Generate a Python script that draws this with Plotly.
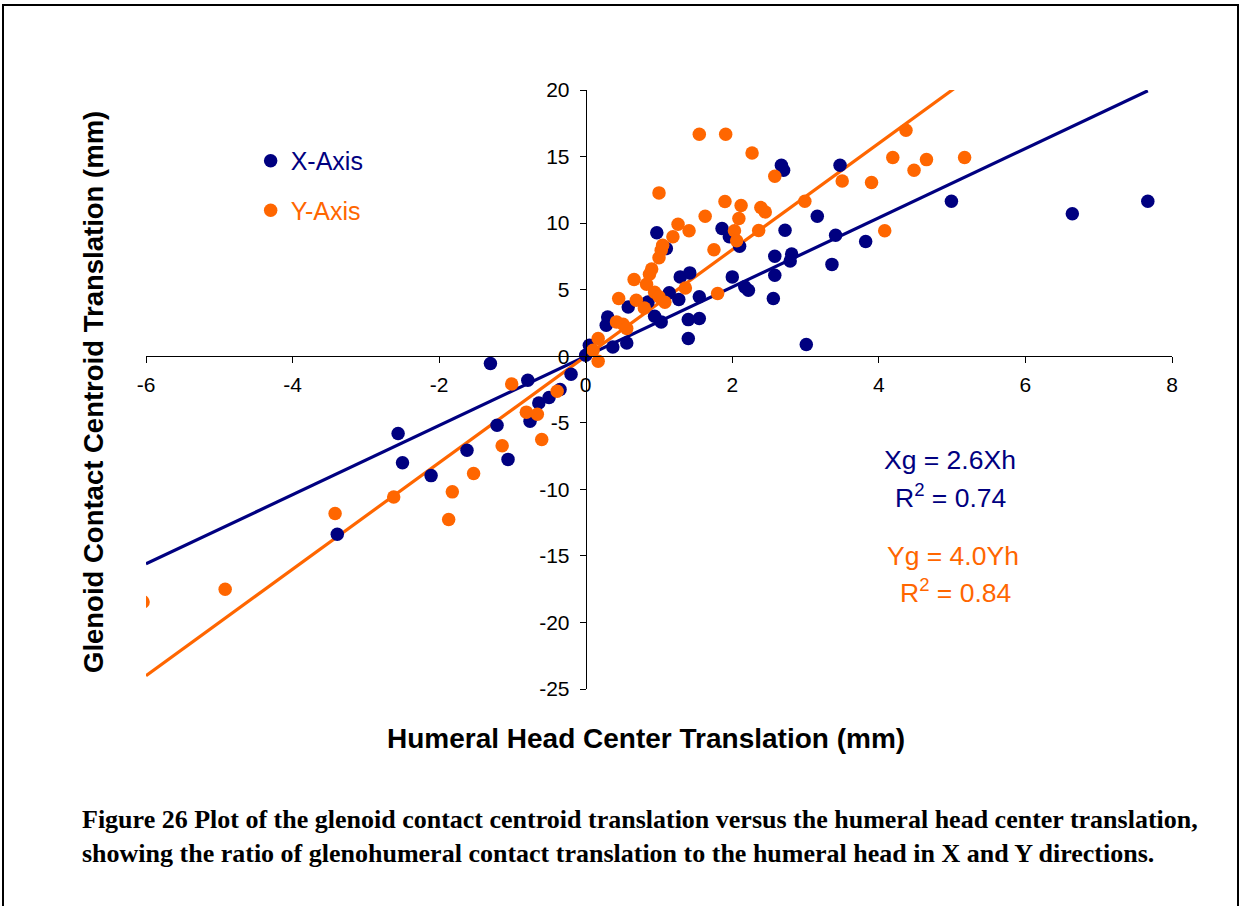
import plotly.graph_objects as go

# ---- data ----
x_axis_h = [-3.39, -2.56, -2.50, -2.11, -1.62, -1.30, -1.21, -1.06, -0.79, -0.76, -0.64, -0.50,
            -0.35, -0.20, 0.00, 0.05, 0.28, 0.30, 0.37, 0.56, 0.58, 0.85, 0.94, 0.97, 1.03, 1.10,
            1.14, 1.27, 1.29, 1.42, 1.40, 1.40, 1.55, 1.55, 1.86, 1.96, 2.00, 2.10, 2.17, 2.22,
            2.56, 2.58, 2.58, 2.67, 2.70, 2.72, 2.79, 2.81, 3.01, 3.16, 3.36, 3.41, 3.47, 3.82,
            4.99, 6.64, 7.67]
x_axis_g = [-13.37, -5.81, -8.01, -8.97, -7.06, -0.55, -5.18, -7.75, -1.80, -4.88, -3.51, -3.10,
            -2.50, -1.35, 0.08, 0.83, 2.33, 2.95, 0.70, 1.00, 3.70, 4.08, 3.00, 9.27, 2.58, 8.09,
            4.76, 4.26, 5.96, 6.26, 2.75, 1.33, 2.83, 4.46, 9.59, 8.97, 5.96, 8.26, 5.21, 4.96,
            4.33, 6.09, 7.51, 14.35, 13.97, 9.47, 7.16, 7.68, 0.88, 10.52, 6.90, 9.09, 14.35, 8.62,
            11.65, 10.70, 11.65]

y_axis_h = [-6.04, -4.92, -3.42, -2.62, -1.87, -1.82, -1.53, -1.14, -1.01, -0.81, -0.66, -0.60,
            -0.39, 0.10, 0.17, 0.17, 0.42, 0.45, 0.51, 0.56, 0.66, 0.69, 0.80, 0.83, 0.87, 0.90,
            0.94, 1.00, 1.08, 1.00, 1.03, 1.05, 1.00, 1.19, 1.26, 1.36, 1.41, 1.55, 1.63, 1.75,
            1.80, 1.90, 1.91, 2.03, 2.06, 2.09, 2.12, 2.27, 2.36, 2.39, 2.45, 2.58, 2.99, 3.50,
            3.90, 4.08, 4.19, 4.37, 4.48, 4.65, 5.17]
y_axis_g = [-18.46, -17.51, -11.82, -10.57, -12.27, -10.19, -8.81, -6.73, -2.08, -4.20, -4.36, -6.25,
            -2.63, 0.45, 1.33, -0.38, 2.58, 4.33, 2.40, 2.08, 5.76, 4.20, 3.62, 5.40, 6.16, 6.55,
            4.80, 4.46, 4.05, 7.40, 7.96, 8.34, 12.27, 8.97, 9.92, 5.12, 9.42, 16.68, 10.52, 8.00,
            4.71, 11.62, 16.68, 9.42, 8.68, 10.34, 11.32, 15.27, 9.44, 11.17, 10.84, 13.52, 11.65, 13.17,
            13.05, 9.42, 14.93, 16.98, 13.97, 14.77, 14.93]

series_names = ["X-Axis", "Y-Axis"]
slopes = [2.6, 4.0]
r_squared = [0.74, 0.84]
x_ticks = [-6, -4, -2, 0, 2, 4, 6, 8]
y_ticks = [-25, -20, -15, -10, -5, 0, 5, 10, 15, 20]
x_tick_text = [str(v) for v in x_ticks]
y_tick_text = [str(v) for v in y_ticks]

NAVY = "#000080"
ORANGE = "#FF6600"
FONT = "Liberation Sans, Arial, sans-serif"

x_min, x_max = min(x_ticks), max(x_ticks)
y_min, y_max = min(y_ticks), max(y_ticks)

fig = go.Figure()

line_start = x_min
line_end = max(x_axis_h + y_axis_h)
for slope, color in zip(slopes, [NAVY, ORANGE]):
    fig.add_trace(go.Scatter(
        x=[line_start, line_end], y=[slope * line_start, slope * line_end],
        mode="lines", line=dict(color=color, width=3.2), showlegend=False, hoverinfo="skip"))

for name, xs, ys, color, grp in [(series_names[0], x_axis_h, x_axis_g, NAVY, "a"),
                                  (series_names[1], y_axis_h, y_axis_g, ORANGE, "b")]:
    fig.add_trace(go.Scatter(
        x=xs, y=ys, mode="markers", legendgroup=grp,
        name='<span style="color:%s">%s</span>' % (color, name),
        marker=dict(color=color, size=13.5, line=dict(width=0))))

# position of the axes so they cross at zero
x_pos = (0 - y_min) / (y_max - y_min)
y_pos = (0 - x_min) / (x_max - x_min)

fig.update_layout(
    width=1241, height=906,
    margin=dict(l=146, r=69, t=90, b=217),
    paper_bgcolor="white", plot_bgcolor="white",
    font=dict(family=FONT, color="black", size=21),
    xaxis=dict(range=[x_min, x_max], tickvals=x_ticks, ticktext=x_tick_text,
               showgrid=False, zeroline=False,
               showline=True, linecolor="black", linewidth=1,
               ticks="outside", ticklen=6, tickcolor="black", tickwidth=1,
               anchor="free", position=x_pos, ticklabelstandoff=4,
               tickfont=dict(size=21, family=FONT)),
    yaxis=dict(range=[y_min, y_max], tickvals=y_ticks, ticktext=y_tick_text,
               showgrid=False, zeroline=False,
               showline=True, linecolor="black", linewidth=1,
               ticks="outside", ticklen=6, tickcolor="black", tickwidth=1,
               anchor="free", position=y_pos, ticklabelstandoff=6,
               tickfont=dict(size=21, family=FONT)),
    showlegend=True,
    legend=dict(x=0.102, y=0.92, xanchor="left", yanchor="top",
                font=dict(size=25, family=FONT), bgcolor="rgba(0,0,0,0)",
                traceorder="grouped", tracegroupgap=14, itemsizing="trace"),
)

# axis titles
fig.add_annotation(text="<b>Humeral Head Center Translation (mm)</b>",
                   xref="paper", yref="paper", x=(646 - 146) / 1026, y=(689 - 738) / 599,
                   showarrow=False, font=dict(size=28, family=FONT, color="black"),
                   xanchor="center", yanchor="middle")
fig.add_annotation(text="<b>Glenoid Contact Centroid Translation (mm)</b>",
                   xref="paper", yref="paper", x=(93 - 146) / 1026, y=(689 - 392) / 599,
                   showarrow=False, textangle=-90, font=dict(size=27.5, family=FONT, color="black"),
                   xanchor="center", yanchor="middle")

# equations
eq_specs = [("Xg = %.1fXh" % slopes[0], NAVY, 950, 460),
            ("R<sup>2</sup> = %.2f" % r_squared[0], NAVY, 950, 496),
            ("Yg = %.1fYh" % slopes[1], ORANGE, 953, 556),
            ("R<sup>2</sup> = %.2f" % r_squared[1], ORANGE, 955, 591)]
for txt, col, px, py in eq_specs:
    fig.add_annotation(text=txt, xref="paper", yref="paper",
                       x=(px - 146) / 1026, y=(689 - py) / 599, showarrow=False,
                       font=dict(size=26.5, family=FONT, color=col),
                       xanchor="center", yanchor="middle")

# caption
caption = ("<b>Figure 26 Plot of the glenoid contact centroid translation versus the humeral head center translation,"
           "<br>showing the ratio of glenohumeral contact translation to the humeral head in X and Y directions.</b>")
fig.add_annotation(text=caption, xref="paper", yref="paper",
                   x=(80 - 146) / 1026, y=(689 - 803) / 599, showarrow=False, align="left",
                   xanchor="left", yanchor="top",
                   font=dict(size=26, family="Liberation Serif, Times New Roman, serif", color="black"))

# page border
fig.add_shape(type="rect", xref="paper", yref="paper",
              x0=(3 - 146) / 1026, x1=(1238 - 146) / 1026,
              y0=(689 - 930) / 599, y1=(689 - 5) / 599,
              line=dict(color="black", width=2), fillcolor="rgba(0,0,0,0)", layer="below")

fig.write_html("out.html", config={"displayModeBar": False},
               post_script="document.body.style.margin='0';")
